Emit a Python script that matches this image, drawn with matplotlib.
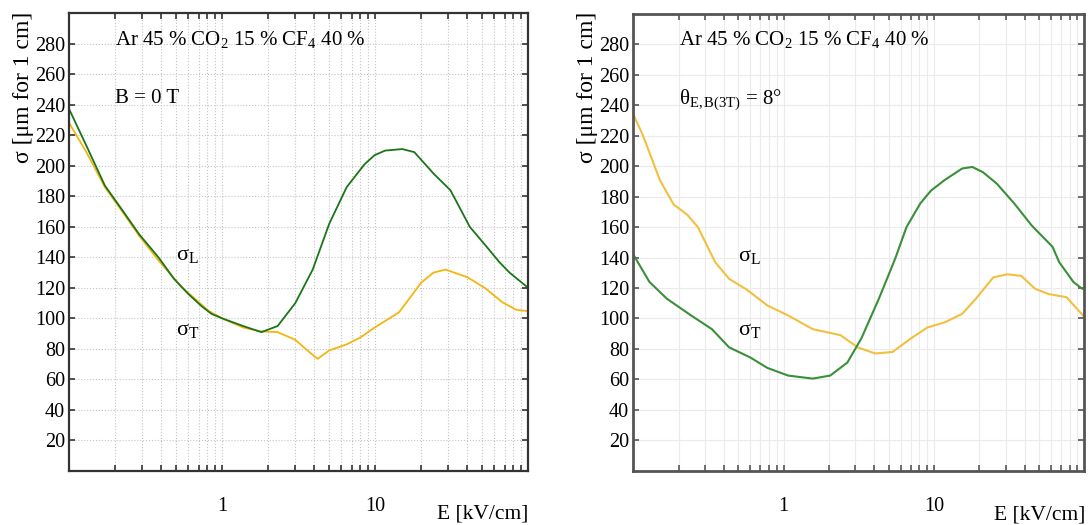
import matplotlib
matplotlib.use("Agg")
import matplotlib.pyplot as plt
from matplotlib.ticker import LogLocator, FixedLocator, NullFormatter, FixedFormatter

plt.rcParams['font.family'] = ['Liberation Serif', 'DejaVu Serif']
plt.rcParams['mathtext.fontset'] = 'custom'
plt.rcParams['mathtext.rm'] = 'Liberation Serif'
plt.rcParams['mathtext.it'] = 'Liberation Serif:italic'

# left panel, B = 0 T
e_left_green = [0.1, 0.131, 0.171, 0.222, 0.287, 0.383, 0.483, 0.6, 0.733, 0.85, 1.0, 1.37, 1.8,
                2.3, 3.0, 3.9, 5.0, 6.5, 8.5, 9.9, 11.6, 15.0, 18.0, 24.0, 31.0, 41.5, 52.4,
                64.6, 75.5, 100]
sig_left_green = [237, 212, 187, 171, 155, 140, 126, 116, 108, 103, 100, 95, 91,
                  95, 110, 132, 162, 186, 201, 207, 210, 211, 209, 195, 184, 160, 148,
                  137, 130, 120]
e_left_yellow = [0.1, 0.131, 0.171, 0.222, 0.287, 0.383, 0.537, 0.813, 1.0, 1.37, 1.8, 2.3,
                 3.0, 3.6, 4.2, 5.0, 6.5, 8.0, 9.9, 14.3, 20, 24, 28.8, 40, 52, 68, 84, 100]
sig_left_yellow = [228, 208, 186, 170, 154, 138, 121, 105, 100, 94, 91.5, 91,
                   86, 79, 73.5, 79, 83, 87.5, 94, 104, 123.5, 130, 132, 127, 120, 110.5, 105.5, 104.8]

# right panel, theta = 8 deg
e_right_yellow = [0.1, 0.115, 0.15, 0.185, 0.229, 0.269, 0.35, 0.434, 0.567, 0.78, 1.07, 1.56,
                  2.39, 3.11, 4.06, 5.3, 6.93, 9.0, 11.8, 15.4, 19, 24.8, 30.7, 38, 47, 58, 76, 100]
sig_right_yellow = [234, 221, 191, 175, 168, 160, 137, 126, 119, 108.5, 102, 93,
                    89, 81, 77, 78, 86.5, 94, 97.5, 103, 113, 127, 129, 128, 119.5, 116, 114, 101]
e_right_green = [0.1, 0.128, 0.167, 0.242, 0.333, 0.434, 0.597, 0.78, 1.07, 1.56, 2.04, 2.65,
                 3.29, 4.3, 5.3, 5.6, 6.56, 8.1, 9.55, 11.8, 15.4, 18.0, 21.2, 26.2, 34.2,
                 44.7, 61.5, 68, 84.5, 96.7, 100]
sig_right_green = [142, 124, 113, 102, 93, 81, 74.5, 67.5, 62.5, 60.5, 62.5, 71,
                   87, 113, 135, 141, 160, 175.5, 184, 191, 198.5, 199.5, 196, 188.5, 175.5,
                   161, 147, 137, 124, 119.5, 120]

y_ticks = [20, 40, 60, 80, 100, 120, 140, 160, 180, 200, 220, 240, 260, 280]
x_ticks = [1, 10]
x_labels = ["1", "10"]

fig = plt.figure(figsize=(10.91, 5.25), dpi=100)
ax1 = fig.add_axes([0.0635, 0.1029, 0.4207, 0.8718])
ax2 = fig.add_axes([0.5805, 0.1034, 0.4134, 0.8700])


def style(ax, grid_ls, grid_col, spine_col, spine_w):
    ax.set_xscale('log')
    ax.set_xlim(0.1, 100)
    ax.set_ylim(0, 300)
    ax.xaxis.set_major_locator(FixedLocator(x_ticks))
    ax.xaxis.set_major_formatter(FixedFormatter(x_labels))
    ax.xaxis.set_minor_locator(LogLocator(base=10, subs=range(2, 10)))
    ax.xaxis.set_minor_formatter(NullFormatter())
    ax.set_yticks(y_ticks)
    ax.tick_params(axis='x', which='both', direction='in', top=True, bottom=True,
                   length=4, width=1.2, color=spine_col, labelsize=14.5, pad=19)
    ax.tick_params(axis='y', which='both', direction='in', left=True, right=True,
                   length=4, width=1.2, color=spine_col, labelsize=14.5, pad=3)
    ax.grid(True, which='both', axis='x', linestyle=grid_ls, color=grid_col, linewidth=0.8)
    ax.grid(True, which='major', axis='y', linestyle=grid_ls, color=grid_col, linewidth=0.8)
    for s in ax.spines.values():
        s.set_color(spine_col)
        s.set_linewidth(spine_w)


style(ax1, ':', '#c4c4c4', '#333333', 1.6)
style(ax2, '-', '#ebebeb', '#555555', 2.0)

ax1.plot(e_left_yellow, sig_left_yellow, color='#f5b50f', lw=1.3)
ax1.plot(e_left_green, sig_left_green, color='#1a751a', lw=1.3)
ax2.plot(e_right_yellow, sig_right_yellow, color='#f2c040', lw=1.5)
ax2.plot(e_right_green, sig_right_green, color='#3a8f3a', lw=1.5)

for ax in (ax1, ax2):
    ax.text(0.2, 283, r'Ar 45 % CO$_2$ 15 % CF$_4$ 40 %', fontsize=15, va='center')
    ax.text(0.5, 141, r'σ$_\mathrm{L}$', fontsize=16, va='center')
    ax.text(0.5, 92, r'σ$_\mathrm{T}$', fontsize=16, va='center')

ax1.text(0.2, 244, 'B = 0 T', fontsize=15, va='center')
ax2.text(0.2, 244, r'θ$_\mathrm{E,B(3T)}$ = 8°', fontsize=15, va='center')

fig.text(24 / 1091, 1 - 12 / 525, 'σ [μm for 1 cm]', rotation=90, ha='center', va='top', fontsize=17)
fig.text(588 / 1091, 1 - 12 / 525, 'σ [μm for 1 cm]', rotation=90, ha='center', va='top', fontsize=17)
fig.text(528 / 1091, 1 - 514 / 525, 'E [kV/cm]', ha='right', va='center', fontsize=15.5)
fig.text(1085 / 1091, 1 - 515 / 525, 'E [kV/cm]', ha='right', va='center', fontsize=15.5)

fig.savefig('out.png', dpi=100)
